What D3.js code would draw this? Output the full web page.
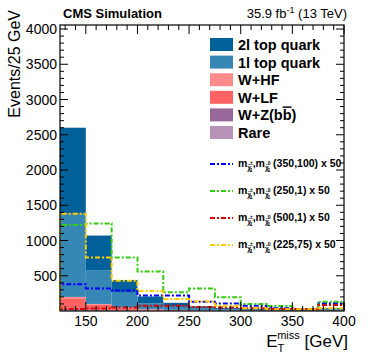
<!DOCTYPE html>
<html>
<head>
<meta charset="utf-8">
<script src="https://cdn.jsdelivr.net/npm/d3@7/dist/d3.min.js"></script>
<style>
  body { margin: 0; background: #fff; }
  svg { display: block; font-family: 'Liberation Sans', Arial, sans-serif; }
</style>
</head>
<body>
<svg width="374" height="359"></svg>
<script>
'use strict';

/* Bin low edges in GeV (25 GeV bins, last one 375-400). */
var binEdges = [125, 150, 175, 200, 225, 250, 275, 300, 325, 350, 375, 400];

/* Background stack, bottom to top. */
var rare = [15, 8, 5, 3, 2, 1, 1, 1, 1, 0.5, 1];
var wzbb = [15, 10, 6, 4, 3, 2, 1, 1, 1, 0.5, 1];
var wlf = [150, 70, 30, 15, 8, 5, 3, 2, 1, 1, 2];
var whf = [20, 12, 8, 4, 3, 2, 1, 1, 1, 0.5, 1];
var top1l = [1190, 480, 210, 80, 45, 25, 15, 10, 6, 4, 15];
var top2l = [1210, 490, 180, 100, 55, 30, 20, 12, 8, 6, 20];

/* Signal points, scaled x 50. */
var sig350 = [380, 320, 290, 220, 220, 130, 105, 75, 40, 30, 110];
var sig250 = [1220, 1240, 760, 560, 265, 320, 195, 100, 70, 25, 130];
var sig500 = [30, 35, 50, 75, 75, 55, 50, 40, 30, 25, 85];
var sig225 = [1380, 760, 430, 285, 170, 135, 75, 40, 25, 25, 40];

var xTicks = [150, 200, 250, 300, 350, 400];
var yTicks = [500, 1000, 1500, 2000, 2500, 3000, 3500, 4000];

var stackDefs = [
  {name: 'Rare', values: rare, color: '#b793b8'},
  {name: 'W+Z(bb)', values: wzbb, color: '#98689b'},
  {name: 'W+LF', values: wlf, color: '#ff6262'},
  {name: 'W+HF', values: whf, color: '#ff8a8a'},
  {name: '1l top quark', values: top1l, color: '#3686b6'},
  {name: '2l top quark', values: top2l, color: '#00619a'}
];

var sigDefs = [
  {mass: '(350,100) x 50', values: sig350, color: '#0000ff'},
  {mass: '(250,1) x 50', values: sig250, color: '#33cc11'},
  {mass: '(500,1) x 50', values: sig500, color: '#dd0000'},
  {mass: '(225,75) x 50', values: sig225, color: '#ffcc00'}
];

var svg = d3.select('svg');
var margin = {left: 60, right: 30, top: 25, bottom: 48};
var width = 374 - margin.left - margin.right;
var height = 359 - margin.top - margin.bottom;

var x = d3.scaleLinear().domain([125, 400]).range([0, width]);
var y = d3.scaleLinear().domain([0, 4057]).range([height, 0]);

var g = svg.append('g')
  .attr('transform', 'translate(' + margin.left + ',' + margin.top + ')');

/* Build the stack. */
var rows = binEdges.slice(0, -1).map(function (lo, i) {
  var r = {lo: lo, hi: binEdges[i + 1]};
  stackDefs.forEach(function (s) { r[s.name] = s.values[i]; });
  return r;
});
var stack = d3.stack().keys(stackDefs.map(function (s) { return s.name; }));
var layers = stack(rows);

g.selectAll('.layer')
  .data(layers)
  .enter()
  .append('g')
  .attr('fill', function (d, i) { return stackDefs[i].color; })
  .selectAll('rect')
  .data(function (d) { return d; })
  .enter()
  .append('rect')
  .attr('x', function (d) { return x(d.data.lo); })
  .attr('width', function (d) { return x(d.data.hi) - x(d.data.lo); })
  .attr('y', function (d) { return y(d[1]); })
  .attr('height', function (d) { return y(d[0]) - y(d[1]); });

/* Signal outlines as steps, closed down to zero at both ends. */
function stepPoints(values) {
  var pts = [[x(binEdges[0]), y(0)]];
  values.forEach(function (v, i) {
    pts.push([x(binEdges[i]), y(v)]);
    pts.push([x(binEdges[i + 1]), y(v)]);
  });
  pts.push([x(binEdges[binEdges.length - 1]), y(0)]);
  return pts;
}

var line = d3.line();
var dash = '5,2,2,2';

g.selectAll('.sig')
  .data(sigDefs)
  .enter()
  .append('path')
  .attr('class', 'sig')
  .attr('d', function (d) { return line(stepPoints(d.values)); })
  .attr('fill', 'none')
  .attr('stroke', function (d) { return d.color; })
  .attr('stroke-width', 2)
  .attr('stroke-dasharray', dash);

/* Axes with ROOT-style inner ticks on all four sides. */
var xMinor = d3.range(130, 401, 10).filter(function (v) { return v % 50 !== 0; });
var yMinor = d3.range(100, 4001, 100).filter(function (v) { return v % 500 !== 0; });

function ticks(axisG, values, len, horizontal, flip) {
  axisG.selectAll(null)
    .data(values)
    .enter()
    .append('line')
    .attr('x1', function (v) { return horizontal ? x(v) : (flip ? width : 0); })
    .attr('x2', function (v) { return horizontal ? x(v) : (flip ? width - len : len); })
    .attr('y1', function (v) { return horizontal ? (flip ? 0 : height) : y(v); })
    .attr('y2', function (v) { return horizontal ? (flip ? len : height - len) : y(v); })
    .attr('stroke', '#000')
    .attr('stroke-width', 1);
}

var tickG = g.append('g');
ticks(tickG, xTicks, 9, true, false);
ticks(tickG, xMinor, 5, true, false);
ticks(tickG, xTicks, 9, true, true);
ticks(tickG, xMinor, 5, true, true);
ticks(tickG, yTicks, 8, false, false);
ticks(tickG, yMinor, 4, false, false);
ticks(tickG, yTicks, 8, false, true);
ticks(tickG, yMinor, 4, false, true);

g.append('rect')
  .attr('width', width)
  .attr('height', height)
  .attr('fill', 'none')
  .attr('stroke', '#000')
  .attr('stroke-width', 1.2);

/* Tick labels. */
g.selectAll('.xlab')
  .data(xTicks)
  .enter()
  .append('text')
  .attr('x', function (v) { return x(v); })
  .attr('y', height + 15)
  .attr('text-anchor', 'middle')
  .attr('font-size', 14)
  .text(function (v) { return v; });

g.selectAll('.ylab')
  .data(yTicks)
  .enter()
  .append('text')
  .attr('x', -3)
  .attr('y', function (v) { return y(v) + 5; })
  .attr('text-anchor', 'end')
  .attr('font-size', 14)
  .text(function (v) { return v; });

/* Axis titles. */
var xt = svg.append('text')
  .attr('x', 348)
  .attr('y', 347)
  .attr('text-anchor', 'end')
  .attr('font-size', 17);
xt.append('tspan').text('E');
xt.append('tspan').attr('font-size', 11).attr('dy', 5).text('T');
xt.append('tspan').attr('font-size', 11).attr('dy', -13).attr('dx', -7).text('miss');
xt.append('tspan').attr('dy', 8).text(' [GeV]');

svg.append('text')
  .attr('transform', 'translate(20,10) rotate(-90)')
  .attr('text-anchor', 'end')
  .attr('font-size', 16)
  .text('Events/25 GeV');

/* Header. */
svg.append('text')
  .attr('x', 63)
  .attr('y', 18)
  .attr('font-size', 13)
  .attr('font-weight', 'bold')
  .text('CMS Simulation');

var lumi = svg.append('text')
  .attr('x', 347)
  .attr('y', 18)
  .attr('text-anchor', 'end')
  .attr('font-size', 13);
lumi.append('tspan').text('35.9 fb');
lumi.append('tspan').attr('font-size', 9).attr('dy', -5).text('-1');
lumi.append('tspan').attr('dy', 5).text(' (13 TeV)');

/* Legend for the stack, top entry first. */
var legend = svg.append('g').attr('transform', 'translate(210,38)');
var legendOrder = stackDefs.slice().reverse();

var item = legend.selectAll('.item')
  .data(legendOrder)
  .enter()
  .append('g')
  .attr('transform', function (d, i) { return 'translate(0,' + (i * 17.6) + ')'; });

item.append('rect')
  .attr('width', 23)
  .attr('height', 13)
  .attr('fill', function (d) { return d.color; });

item.append('text')
  .attr('x', 28)
  .attr('y', 12)
  .attr('font-size', 14.5)
  .attr('font-weight', 'bold')
  .each(function (d) {
    var t = d3.select(this);
    if (d.name === 'W+Z(bb)') {
      t.append('tspan').text('W+Z(b');
      t.append('tspan').attr('text-decoration', 'overline').text('b');
      t.append('tspan').text(')');
    } else {
      t.text(d.name);
    }
  });

/* Legend for the signals. */
var sigLegend = svg.append('g').attr('transform', 'translate(210,164)');

var sItem = sigLegend.selectAll('.sitem')
  .data(sigDefs)
  .enter()
  .append('g')
  .attr('transform', function (d, i) { return 'translate(0,' + (i * 27) + ')'; });

sItem.append('line')
  .attr('x1', 0).attr('x2', 23)
  .attr('stroke', function (d) { return d.color; })
  .attr('stroke-width', 2)
  .attr('stroke-dasharray', dash);

var st = sItem.append('text')
  .attr('x', 28)
  .attr('y', 3)
  .attr('font-size', 10.5)
  .attr('font-weight', 'bold');
st.append('tspan').text('m');
st.append('tspan').attr('font-size', 6.5).attr('dy', 3).text('χ̃');
st.append('tspan').attr('font-size', 5).attr('dy', -5).attr('dx', -1).text('±');
st.append('tspan').attr('font-size', 5).attr('dy', 7).attr('dx', -3).text('1');
st.append('tspan').attr('dy', -5).text(',m');
st.append('tspan').attr('font-size', 6.5).attr('dy', 3).text('χ̃');
st.append('tspan').attr('font-size', 5).attr('dy', -5).attr('dx', -1).text('0');
st.append('tspan').attr('font-size', 5).attr('dy', 7).attr('dx', -3).text('1');
st.append('tspan').attr('dy', -5).text(function (d) { return ' ' + d.mass; });
</script>
</body>
</html>
